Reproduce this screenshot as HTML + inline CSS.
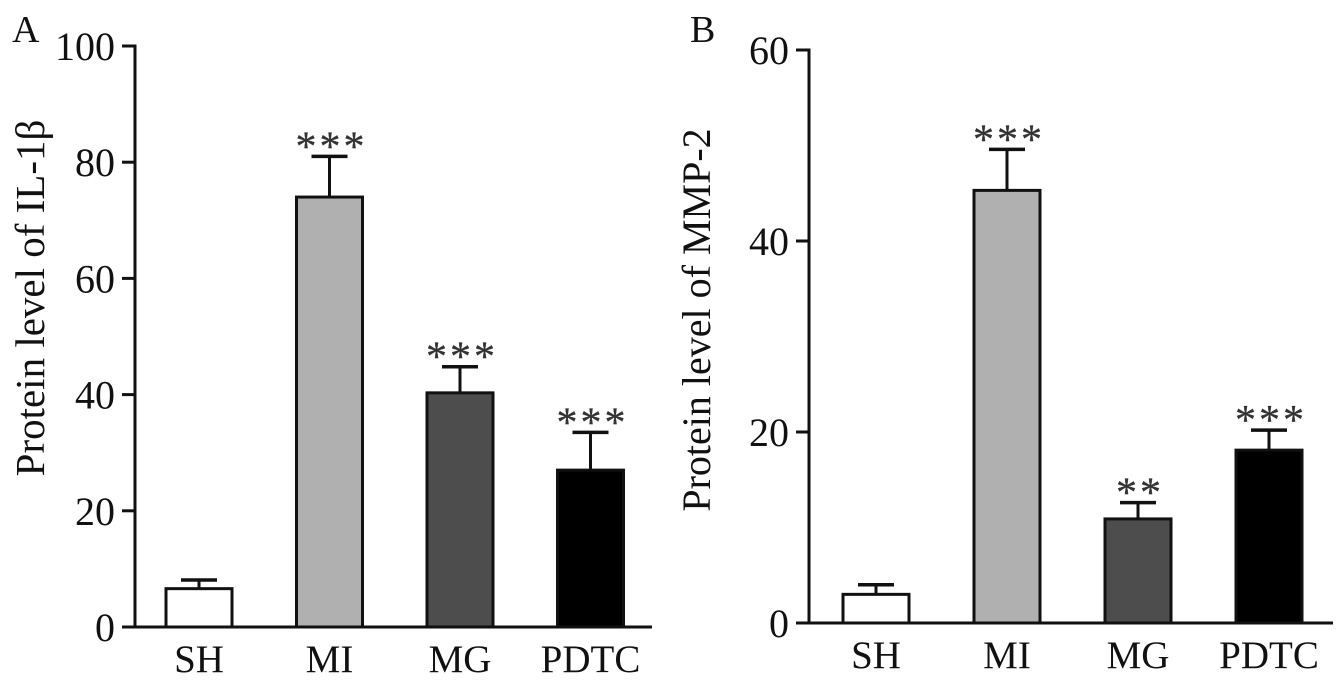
<!DOCTYPE html>
<html><head><meta charset="utf-8"><style>
html,body{margin:0;padding:0;background:#fff;}
svg{display:block;font-family:"Liberation Serif",serif;}
</style></head><body>
<svg id="chart" width="1342" height="680" viewBox="0 0 1342 680"></svg>
<script>
const categories = ["SH","MI","MG","PDTC"];
const colors = ["#ffffff","#b0b0b0","#4d4d4d","#000000"];
const il1bValues = [6.6, 74, 40.3, 27];
const il1bErrors = [1.5, 7, 4.5, 6.5];
const il1bStars = ["", "***", "***", "***"];
const il1bTicks = [0,20,40,60,80,100];
const mmp2Values = [3.0, 45.3, 10.9, 18.1];
const mmp2Errors = [1.0, 4.3, 1.7, 2.1];
const mmp2Stars = ["", "***", "**", "***"];
const mmp2Ticks = [0,20,40,60];

const NS="http://www.w3.org/2000/svg";
const svg=document.getElementById('chart');
function mk(tag,attrs,parent){const e=document.createElementNS(NS,tag);for(const k in attrs)e.setAttribute(k,attrs[k]);(parent||svg).appendChild(e);return e;}

function panel(cfg){
  const g=mk('g',{});
  
  
  const y=v=>cfg.y0-(v/cfg.max)*(cfg.y0-cfg.yTop);
  const x=i=>cfg.firstC+i*cfg.step;
  const ya=mk('line',{x1:cfg.ax,y1:y(cfg.max)-1.5,x2:cfg.ax,y2:cfg.y0+1.5,stroke:'#111','stroke-width':3},g);
  
  
  const xa=mk('line',{x1:cfg.ax-13,y1:cfg.y0,x2:cfg.xEnd,y2:cfg.y0,stroke:'#111','stroke-width':3},g);
  
  
  cfg.ticks.forEach(t=>{
    const tk=mk('line',{x1:cfg.ax-13,y1:y(t),x2:cfg.ax,y2:y(t),stroke:'#111','stroke-width':3},g);
    
    
    const tl=mk('text',{x:cfg.ax-20,y:y(t)+14,'text-anchor':'end','font-size':40,fill:'#111'},g);
    tl.textContent=t;
    
    
  });
  categories.forEach((c,i)=>{
    const cx=x(i),w=66;
    const top=y(cfg.values[i]),et=y(cfg.values[i]+cfg.errors[i]);
    const eb=mk('line',{x1:cx,y1:top,x2:cx,y2:et,stroke:'#111','stroke-width':3},g);
    
    
    const cap=mk('line',{x1:cx-18,y1:et,x2:cx+18,y2:et,stroke:'#111','stroke-width':3.5},g);
    
    
    const r=mk('rect',{x:cx-w/2,y:top,width:w,height:cfg.y0-top,fill:colors[i],stroke:'#111','stroke-width':3},g);
    
    
    if(cfg.stars[i]){
      const s=mk('text',{x:cx+2,y:et+4,'text-anchor':'middle','font-size':42,fill:'#333','stroke':'#333','stroke-width':0.3,'letter-spacing':3},g);
      s.textContent=cfg.stars[i];
      
      
    }
    const cl=mk('text',{x:cx,y:cfg.y0+45,'text-anchor':'middle','font-size':39,fill:'#111'},g);
    cl.textContent=c;
    
    
  });
  const tt=mk('text',{x:0,y:0,'text-anchor':'middle','font-size':cfg.titleSize,fill:'#111',transform:`translate(${cfg.titleX},${cfg.titleY}) rotate(-90)`},g);
  tt.textContent=cfg.title;
  
  
  const pl=mk('text',{x:cfg.labelX,y:42,'font-size':38,fill:'#111'},g);
  pl.textContent=cfg.label;
  
  
}
panel({name:'panel-a',label:'A',labelX:12,ax:135,y0:627,yTop:46,max:100,xEnd:652,firstC:199,step:130.5,
  values:il1bValues,errors:il1bErrors,stars:il1bStars,ticks:il1bTicks,title:'Protein level of IL-1\u03B2',titleX:44,titleY:298,titleSize:41});
panel({name:'panel-b',label:'B',labelX:690,ax:809,y0:623,yTop:50,max:60,xEnd:1333,firstC:876,step:131,
  values:mmp2Values,errors:mmp2Errors,stars:mmp2Stars,ticks:mmp2Ticks,title:'Protein level of MMP-2',titleX:710,titleY:320,titleSize:40});
</script>
</body></html>
